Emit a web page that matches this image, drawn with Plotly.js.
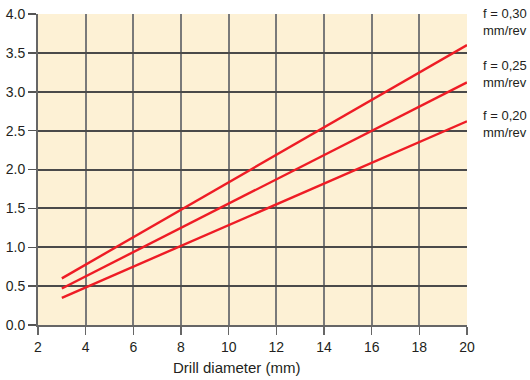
<!DOCTYPE html>
<html><head><meta charset="utf-8">
<script src="https://cdn.plot.ly/plotly-3.0.1.min.js"></script>
<style>html,body{margin:0;padding:0;background:#fff}#c{width:530px;height:380px}</style>
</head><body><div id="c"></div>
<script>
var diameters = [3, 8, 14, 20];
var f030 = [0.60, 1.48, 2.54, 3.60];
var f025 = [0.47, 1.25, 2.18, 3.12];
var f020 = [0.35, 1.02, 1.82, 2.62];
var seriesLabels = ["f = 0,30<br>mm/rev", "f = 0,25<br>mm/rev", "f = 0,20<br>mm/rev"];
var xTicks = [2,4,6,8,10,12,14,16,18,20];
var yTicks = [0,0.5,1,1.5,2,2.5,3,3.5,4];
var yTickText = ["0.0","0.5","1.0","1.5","2.0","2.5","3.0","3.5","4.0"];
var xTitle = "Drill diameter (mm)";

var labelPos = [0.9727, 0.807, 0.646];

var lineStyle = {color:'#ee1c25', width:2.4};
var traces = [f030, f025, f020].map(function(v){
  return {x: diameters, y: v, mode:'lines', line: lineStyle, hoverinfo:'skip'};
});

var annotations = seriesLabels.map(function(t,i){
  return {text:t, xref:'paper', yref:'paper', x:1.033, y:labelPos[i], xanchor:'left', yanchor:'middle',
    showarrow:false, align:'left', font:{size:13, color:'#231f20'}};
});
annotations.push({text:xTitle, xref:'paper', yref:'paper', x:0.464, y:-0.138, xanchor:'center', yanchor:'middle',
  showarrow:false, font:{size:15, color:'#231f20'}});

var layout = {
  width:530, height:380,
  margin:{l:38, r:63, t:14, b:55},
  paper_bgcolor:'#ffffff',
  plot_bgcolor:'#fdf1d5',
  showlegend:false,
  font:{family:'Liberation Sans, Arial, sans-serif', color:'#231f20', size:14},
  xaxis:{range:[2,20], tickvals:xTicks, ticks:'outside', ticklen:8, tickcolor:'#666', tickwidth:1.5,
    showgrid:true, gridcolor:'#7a7a7a', gridwidth:2, showline:true, linecolor:'#666', linewidth:2,
    zeroline:false, tickfont:{size:14}},
  yaxis:{range:[0,4], tickvals:yTicks, ticktext:yTickText, ticks:'outside', ticklen:8, tickcolor:'#555', tickwidth:1.5,
    showgrid:true, gridcolor:'#4a4a4a', gridwidth:2, showline:true, linecolor:'#666', linewidth:2,
    zeroline:false, tickfont:{size:14}},
  annotations: annotations
};
Plotly.newPlot('c', traces, layout, {staticPlot:true, displayModeBar:false});
</script></body></html>
